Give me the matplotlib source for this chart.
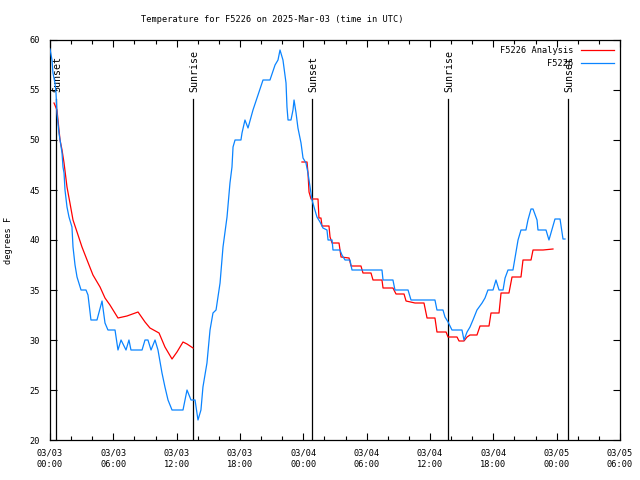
import matplotlib
matplotlib.use('Agg')
import matplotlib.pyplot as plt
from matplotlib.ticker import MultipleLocator

plt.rcParams['font.family'] = ['DejaVu Sans Mono']

# hours since 2025-03-03 00:00 UTC
obs_h = [0.0, 0.19, 0.28, 0.47, 0.57, 0.66, 0.85, 1.14, 1.23, 1.33, 1.42, 1.61, 1.80, 2.08, 2.18, 2.37,
         2.56, 2.94, 3.41, 3.6, 3.88, 4.45, 4.93, 5.21, 5.49, 6.16, 6.44, 6.73, 7.2, 7.48, 7.67, 8.72,
         9.0, 9.28, 9.57, 9.95, 10.23, 10.61, 10.89, 11.18, 11.56, 12.6, 12.98, 13.36, 13.74, 14.02,
         14.3, 14.49, 14.87, 15.16, 15.44, 15.73, 16.11, 16.39, 16.77, 17.05, 17.24, 17.34, 17.53,
         18.09, 18.19, 18.47, 18.76, 19.23, 19.71, 20.18, 20.84, 21.32, 21.6, 21.79, 22.07, 22.36,
         22.45, 22.55, 22.83, 23.02, 23.12, 23.31, 23.49, 23.78, 23.97, 24.25, 24.44, 24.82, 25.1,
         25.29, 25.58, 25.86, 26.24, 26.34, 26.72, 26.81, 27.47, 27.66, 27.95, 28.42, 28.61, 31.45,
         31.55, 32.49, 32.68, 33.92, 34.2, 36.47, 36.66, 37.23, 37.42, 37.71, 38.08, 39.03, 39.22,
         39.51, 39.79, 40.07, 40.45, 40.93, 41.21, 41.49, 41.97, 42.25, 42.54, 42.92, 43.11, 43.39,
         43.86, 44.05, 44.34, 44.62, 45.09, 45.28, 45.57, 45.76, 46.14, 46.23, 46.99, 47.27, 47.84,
         48.32, 48.6, 48.79]
obs_t = [59.1, 58, 56.7, 55.7, 54.7, 52.7, 50.7, 48.7, 47.3, 46.7, 45, 43.3, 42.3, 41.3, 39.3, 37.5,
         36.3, 35, 35, 34.5, 32, 32, 33.9, 31.7, 31, 31, 29, 30, 29, 30, 29, 29,
         30, 30, 29, 30, 29, 26.7, 25.3, 24, 23, 23, 25, 24, 24, 22,
         23, 25.3, 27.7, 31, 32.7, 33, 35.7, 39.3, 42.3, 45.7, 47.3, 49.3, 50,
         50, 50.7, 52, 51.2, 53, 54.5, 56, 56, 57.5, 58, 59, 58, 55.7,
         53.3, 52, 52, 53, 54, 52.7, 51.2, 49.7, 48.2, 47.7, 46.7, 44, 43,
         42.3, 41.8, 41.2, 41, 40, 40, 39, 39, 38.5, 38, 38, 37, 37,
         36, 36, 35, 35, 34, 34, 33, 33, 32.3, 31.8, 31, 31, 30,
         30.8, 31.3, 32, 33, 33.7, 34.2, 35, 35, 36, 35, 35, 36.2, 37,
         37, 38.2, 40, 41, 41, 42, 43.1, 43.1, 42, 41, 41, 40, 42.1,
         42.1, 40.1, 40.1]

ana1_h = [0.38, 0.66, 0.95, 1.14, 1.33, 1.61, 1.89, 2.18, 2.56, 3.03, 3.51, 4.07, 4.74, 5.21, 5.68,
          6.44, 7.29, 8.34, 9.0, 9.47, 10.33, 10.89, 11.56, 12.03, 12.6, 12.98, 13.55]
ana1_t = [53.7, 53, 50, 49, 47.7, 45.3, 43.7, 42, 40.8, 39.3, 38, 36.5, 35.3, 34.2, 33.5,
          32.2, 32.4, 32.8, 31.8, 31.2, 30.7, 29.3, 28.1, 28.8, 29.8, 29.6, 29.2]

ana2_h = [23.87, 24.35, 24.44, 24.54, 24.73, 25.39, 25.48, 25.67, 25.77, 26.43, 26.53, 26.72, 27.38,
          27.57, 28.33, 28.52, 29.46, 29.65, 30.41, 30.6, 31.45, 31.55, 32.49, 32.78, 33.54, 33.73,
          34.58, 35.43, 35.72, 36.47, 36.66, 37.52, 37.71, 38.56, 38.75, 39.22, 39.51, 39.79, 40.45,
          40.74, 41.59, 41.78, 42.54, 42.73, 43.48, 43.77, 44.62, 44.81, 45.57, 45.76, 46.71, 47.65]
ana2_t = [47.8, 47.8, 46.7, 44.8, 44.1, 44.1, 42.2, 42.2, 41.4, 41.4, 40.3, 39.7, 39.7,
          38.3, 38.2, 37.4, 37.4, 36.7, 36.7, 36, 36, 35.2, 35.2, 34.6, 34.6, 33.9,
          33.7, 33.7, 32.2, 32.2, 30.8, 30.8, 30.3, 30.3, 29.9, 29.9, 30.3, 30.5, 30.5,
          31.4, 31.4, 32.7, 32.7, 34.7, 34.7, 36.3, 36.3, 38, 38, 39, 39, 39.1]

sun_h = [0.57, 13.55, 24.82, 37.71, 49.07]
sun_lbl = ['Sunset', 'Sunrise', 'Sunset', 'Sunrise', 'Sunset']

tick_h = [0, 6, 12, 18, 24, 30, 36, 42, 48, 54]
tick_lbl = ['03/03\n00:00', '03/03\n06:00', '03/03\n12:00', '03/03\n18:00', '03/04\n00:00',
            '03/04\n06:00', '03/04\n12:00', '03/04\n18:00', '03/05\n00:00', '03/05\n06:00']

fig = plt.figure(figsize=(6.4, 4.8), dpi=100)
ax = fig.add_axes([50/640, 40/480, 570/640, 400/480])

ax.plot(ana1_h, ana1_t, color='#ff0000', lw=0.9, label='F5226 Analysis', zorder=3)
ax.plot(ana2_h, ana2_t, color='#ff0000', lw=0.9, zorder=3)
ax.plot(obs_h, obs_t, color='#0a84ff', lw=0.9, label='F5226', zorder=4)

for h, s in zip(sun_h, sun_lbl):
    ax.plot([h, h], [20, 54.1], color='black', lw=0.9, zorder=2)
    ax.text(h + 0.1, 54.8, s, rotation=90, ha='center', va='bottom', fontsize=7.2)

ax.set_xlim(0, 54)
ax.set_ylim(20, 60)
ax.set_xticks(tick_h)
ax.set_xticklabels(tick_lbl, linespacing=1.35)
ax.xaxis.set_minor_locator(MultipleLocator(2))
ax.yaxis.set_major_locator(MultipleLocator(5))
ax.tick_params(which='both', direction='in', top=True, right=True, labelsize=6.2, width=0.8)
ax.tick_params(which='major', length=5)
ax.tick_params(which='minor', length=3)
ax.tick_params(axis='x', which='major', pad=6)
ax.tick_params(axis='y', which='major', pad=7)
for sp in ax.spines.values():
    sp.set_linewidth(0.9)

ax.set_ylabel('degrees F', fontsize=6.2, labelpad=12)
fig.text(272/640, 1 - 20/480, 'Temperature for F5226 on 2025-Mar-03 (time in UTC)',
         ha='center', va='center', fontsize=6.2)

leg = ax.legend(loc='upper right', fontsize=6.2, frameon=False, markerfirst=False,
                handlelength=3.8, borderaxespad=0.3, labelspacing=0.45, handletextpad=0.9)
for t in leg.get_texts():
    t.set_ha('right')

fig.savefig('out.png', dpi=100)
